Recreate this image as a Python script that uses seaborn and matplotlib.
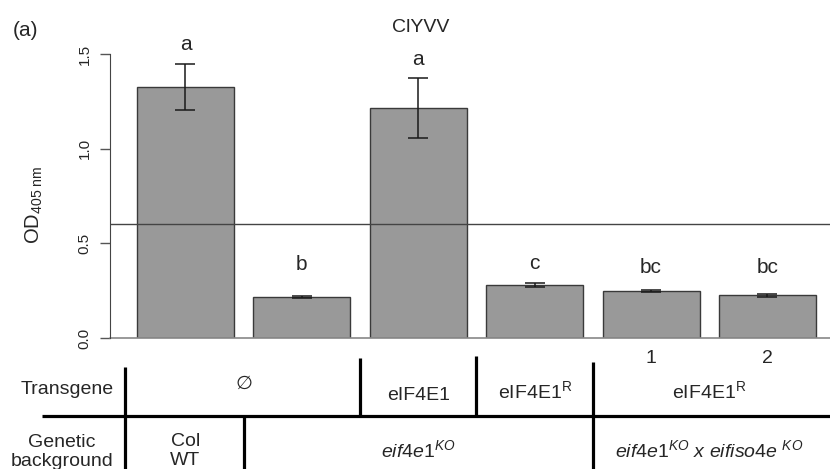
import numpy as np
import seaborn as sns
import matplotlib.pyplot as plt

# data
groups = ["Col WT", "eif4e1 KO", "eIF4E1", "eIF4E1 R", "KO x KO line 1", "KO x KO line 2"]
od_mean = [1.325, 0.218, 1.215, 0.280, 0.247, 0.226]
od_err = [0.120, 0.006, 0.158, 0.008, 0.005, 0.007]
letters = ["a", "b", "a", "c", "bc", "bc"]
letter_y = [1.52, 0.36, 1.44, 0.363, 0.345, 0.345]
threshold = 0.6
yticks = [0.0, 0.5, 1.0, 1.5]

sns.set_style("white")
plt.rcParams['font.family'] = ['Liberation Sans', 'DejaVu Sans']
plt.rcParams['mathtext.fontset'] = 'custom'
plt.rcParams['mathtext.rm'] = 'Liberation Sans'
plt.rcParams['mathtext.it'] = 'Liberation Sans:italic'

W, H = 830, 469
fig = plt.figure(figsize=(W / 100, H / 100), dpi=100)
ax = fig.add_axes([110 / W, (H - 338) / H, 720 / W, (338 - 35.1) / H])

sns.barplot(x=groups, y=od_mean, color="#999999", saturation=1, width=0.833,
            edgecolor="#3a3a3a", linewidth=1, errorbar=None, ax=ax)
ax.errorbar(np.arange(len(groups)), od_mean, yerr=od_err, fmt="none",
            ecolor="#1a1a1a", elinewidth=1.1, capsize=7.2, capthick=1.1)
for i, (lab, y) in enumerate(zip(letters, letter_y)):
    ax.text(i, y, lab, ha="center", va="baseline", fontsize=15)

ax.axhline(threshold, color="#444444", lw=1)
ax.axhline(0, color="#888888", lw=1.2, clip_on=False)

ax.set_xlim(-0.6486, 5.537)
ax.set_ylim(0, 1.6)
ax.set_xticks([])
ax.set_yticks(yticks)
ax.set_yticklabels([f"{v:.1f}" for v in yticks], rotation=90, va="center", fontsize=11)
ax.tick_params(axis="y", length=7.2, width=1, color="#555555", pad=6, left=True)
for s in ["top", "right", "bottom"]:
    ax.spines[s].set_visible(False)
ax.spines["left"].set_bounds(0, 1.5)
ax.spines["left"].set_color("#444444")
ax.set_xlabel("")
ax.set_ylabel(r"$\mathrm{OD}_{\mathrm{405\ nm}}$", fontsize=14.5)
ax.yaxis.set_label_coords(-0.09, 0.44)

fig.text(421 / W, 1 - 32 / H, "ClYVV", ha="center", va="baseline", fontsize=14)
fig.text(13 / W, 1 - 36 / H, "(a)", ha="left", va="baseline", fontsize=15)

# table underneath the bars
tab = fig.add_axes([0, 0, 1, (H - 338) / H])
tab.set_xlim(-0.6486 - 110 / 116.4, 5.537)
tab.set_ylim(H, 338)
tab.axis("off")
lk = dict(color="black", lw=2.3, solid_capstyle="butt")
tab.plot([-1.23, 5.537], [416, 416], **lk)
tab.plot([-0.52, -0.52], [367, H], **lk)
tab.plot([0.5, 0.5], [416, H], **lk)
tab.plot([1.5, 1.5], [358, 416], **lk)
tab.plot([2.5, 2.5], [356, 416], **lk)
tab.plot([3.5, 3.5], [362, H], **lk)

fs = 14
tab.text(-1.02, 389, "Transgene", ha="center", va="center", fontsize=fs)
tab.text(-1.06, 452, "Genetic\nbackground", ha="center", va="center", fontsize=fs, linespacing=1.2)
tab.text(0.5, 384, "\u2205", ha="center", va="center", fontsize=fs)
tab.text(2.0, 395, "eIF4E1", ha="center", va="center", fontsize=fs)
tab.text(3.0, 391, r"eIF4E1$^{\mathrm{R}}$", ha="center", va="center", fontsize=fs)
tab.text(4.5, 391, r"eIF4E1$^{\mathrm{R}}$", ha="center", va="center", fontsize=fs)
tab.text(4.0, 358, "1", ha="center", va="center", fontsize=fs)
tab.text(5.0, 358, "2", ha="center", va="center", fontsize=fs)
tab.text(0.0, 451, "Col\nWT", ha="center", va="center", fontsize=fs, linespacing=1.2)
tab.text(2.0, 450, r"$\mathit{eif4e1}^{\mathit{KO}}$", ha="center", va="center", fontsize=fs)
tab.text(4.5, 450, r"$\mathit{eif4e1}^{\mathit{KO}}\ \mathit{x}\ \mathit{eifiso4e\ }^{\mathit{KO}}$",
         ha="center", va="center", fontsize=fs)

fig.savefig("out.png", dpi=100)
